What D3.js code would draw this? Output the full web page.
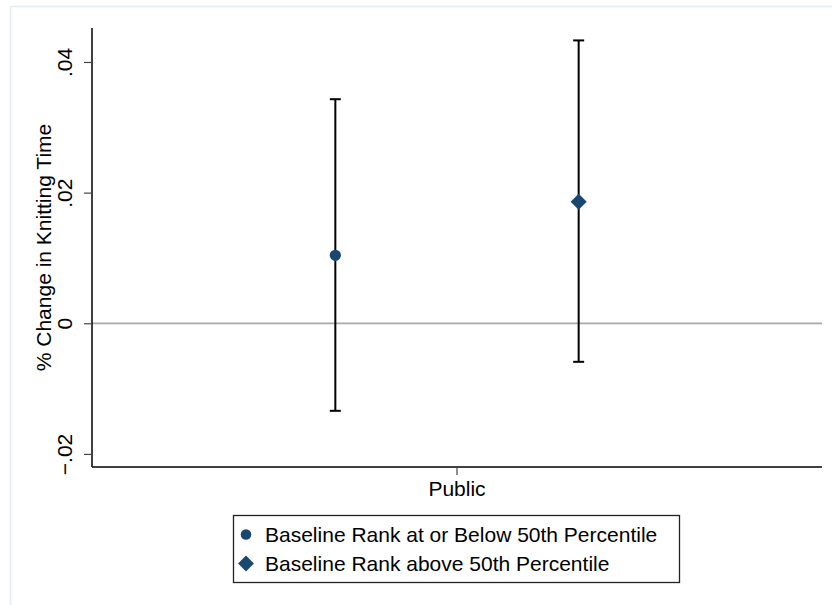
<!DOCTYPE html>
<html>
<head>
  <meta charset="utf-8">
  <title></title>
  <script src="https://cdn.jsdelivr.net/npm/d3@7"></script>
</head>
<style>
  body { margin: 0; background: #fff; }
  text { font-family: "Liberation Sans", Arial, Helvetica, sans-serif; fill: #000; }
</style>
<body>
  <div id="chart"></div>
  <script>
    var categories = ['Public'];
    var groups = ['Baseline Rank at or Below 50th Percentile', 'Baseline Rank above 50th Percentile'];
    var estimates = [0.0104, 0.0186];
    var lower = [-0.0134, -0.0059];
    var upper = [0.0343, 0.0433];
    var yTicks = [-0.02, 0, 0.02, 0.04];
    var yTitle = '% Change in Knitting Time';

    var width = 832, height = 605;
    var margin = { top: 28, right: 10, bottom: 138, left: 92 };
    var color = '#1a476f';
    var fontSize = 21;

    var svg = d3.select('#chart').append('svg')
      .attr('width', width)
      .attr('height', height);

    // faint outer frame of the graph region
    svg.append('rect')
      .attr('x', 10.5).attr('y', 6.5)
      .attr('width', width).attr('height', height)
      .attr('fill', 'none')
      .attr('stroke', '#e4eef0')
      .attr('stroke-width', 1.5);

    var x = d3.scaleBand()
      .domain(categories)
      .range([margin.left, width - margin.right]);

    var offset = d3.scalePoint()
      .domain(groups)
      .range([-x.bandwidth() / 6, x.bandwidth() / 6]);

    var y = d3.scaleLinear()
      .domain([-0.022, 0.0452])
      .range([height - margin.bottom, margin.top]);

    var fmt = function (d) {
      if (d === 0) return '0';
      return (d < 0 ? '\u2212' : '') + String(Math.abs(d)).replace(/^0/, '');
    };

    // zero reference line
    svg.append('line')
      .attr('x1', margin.left).attr('x2', width - margin.right)
      .attr('y1', y(0)).attr('y2', y(0))
      .attr('stroke', '#a8a8a8')
      .attr('stroke-width', 1.8);

    // y axis
    var yAxis = svg.append('g')
      .attr('transform', 'translate(' + margin.left + ',0)')
      .call(d3.axisLeft(y).tickValues(yTicks).tickFormat(fmt).tickSize(8).tickPadding(0));
    yAxis.select('.domain').attr('stroke', '#000').attr('stroke-width', 1.5)
      .attr('d', 'M0,' + margin.top + 'V' + (height - margin.bottom));
    yAxis.selectAll('.tick line').attr('stroke', '#444').attr('stroke-width', 1.2);
    yAxis.selectAll('.tick text')
      .attr('font-size', fontSize)
      .attr('text-anchor', 'middle')
      .attr('transform', 'translate(-20,0) rotate(-90)')
      .attr('x', 0).attr('y', 0).attr('dy', 0);

    // x axis
    var xAxis = svg.append('g')
      .attr('transform', 'translate(0,' + (height - margin.bottom) + ')')
      .call(d3.axisBottom(x).tickSize(8).tickPadding(3));
    xAxis.select('.domain').attr('stroke', '#000').attr('stroke-width', 1.5)
      .attr('d', 'M' + margin.left + ',0H' + (width - margin.right));
    xAxis.selectAll('.tick line').attr('stroke', '#444').attr('stroke-width', 1.2);
    xAxis.selectAll('.tick text').attr('font-size', fontSize).attr('dy', '0.85em');

    // y title
    svg.append('text')
      .attr('transform', 'translate(51,' + ((margin.top + height - margin.bottom) / 2) + ') rotate(-90)')
      .attr('text-anchor', 'middle')
      .attr('font-size', fontSize)
      .text(yTitle);

    // confidence intervals and point estimates
    var rows = groups.map(function (g, i) {
      return { group: g, est: estimates[i], lo: lower[i], hi: upper[i], cx: x(categories[0]) + x.bandwidth() / 2 + offset(g) };
    });

    var ci = svg.append('g').attr('stroke', '#000').attr('stroke-width', 2);
    ci.selectAll('.bar').data(rows).enter().append('line')
      .attr('x1', function (d) { return d.cx; }).attr('x2', function (d) { return d.cx; })
      .attr('y1', function (d) { return y(d.lo); }).attr('y2', function (d) { return y(d.hi); });
    ['lo', 'hi'].forEach(function (k) {
      ci.selectAll('.cap-' + k).data(rows).enter().append('line')
        .attr('x1', function (d) { return d.cx - 5.5; }).attr('x2', function (d) { return d.cx + 5.5; })
        .attr('y1', function (d) { return y(d[k]); }).attr('y2', function (d) { return y(d[k]); });
    });

    var shapes = [d3.symbolCircle, d3.symbolDiamond2];
    var sizes = [100, 165];
    svg.selectAll('.pt').data(rows).enter().append('path')
      .attr('transform', function (d) { return 'translate(' + d.cx + ',' + y(d.est) + ')'; })
      .attr('d', function (d, i) { return d3.symbol().type(shapes[i]).size(sizes[i])(); })
      .attr('fill', color);

    // legend
    var lg = svg.append('g').attr('transform', 'translate(233.5,515.5)');
    lg.append('rect')
      .attr('width', 446).attr('height', 67)
      .attr('fill', '#fff').attr('stroke', '#222').attr('stroke-width', 1.3);
    groups.forEach(function (g, i) {
      var row = lg.append('g').attr('transform', 'translate(0,' + (19 + i * 29) + ')');
      row.append('path')
        .attr('transform', 'translate(12.5,0)')
        .attr('d', d3.symbol().type(shapes[i]).size(i ? 160 : 88)())
        .attr('fill', color);
      row.append('text')
        .attr('x', 31.5).attr('dy', '0.36em')
        .attr('font-size', fontSize)
        .text(g);
    });
  </script>
</body>
</html>
